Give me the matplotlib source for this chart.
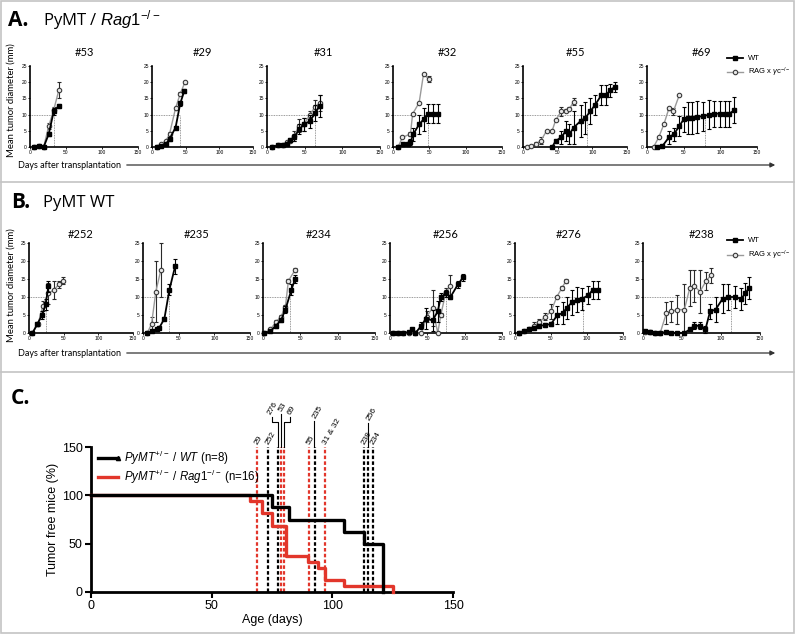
import matplotlib
matplotlib.use('Agg')
import matplotlib.pyplot as plt
from matplotlib.lines import Line2D
from matplotlib.patches import Rectangle, FancyArrowPatch

plt.rcParams['mathtext.fontset'] = 'custom'
plt.rcParams['mathtext.rm'] = 'Liberation Sans'
plt.rcParams['mathtext.it'] = 'Liberation Sans:italic'
plt.rcParams['font.family'] = ['Liberation Sans', 'DejaVu Sans']

W, H = 796, 635

# ---------------- panel A: PyMT / Rag1-/- tumours ----------------
a_titles = ['#53', '#29', '#31', '#32', '#55', '#69']

wt_d_53 = [5, 12, 19, 26, 33, 40]
wt_v_53 = [0, 0.3, 0, 4, 11, 12.7]
wt_e_53 = [0, 0, 0, 0.5, 1, 0.7]
rag_d_53 = [5, 12, 19, 26, 33, 40]
rag_v_53 = [0, 0.3, 0, 6.5, 11.5, 17.5]
rag_e_53 = [0, 0, 0, 1, 1, 2.5]
cut_53 = 33

wt_d_29 = [7, 14, 21, 26, 35, 42, 48]
wt_v_29 = [0, 0.2, 1, 2.5, 6, 13.5, 17.3]
wt_e_29 = [0, 0, 0.3, 0.5, 0.5, 0.8, 0.5]
rag_d_29 = [7, 14, 21, 26, 35, 42, 49]
rag_v_29 = [0, 1, 2, 4, 12, 16.5, 20]
rag_e_29 = [0, 0, 0, 0.5, 0.5, 0.5, 0.5]
cut_29 = 41

wt_d_31 = [7, 14, 21, 26, 31, 36, 43, 49, 57, 64, 70]
wt_v_31 = [0, 0.5, 0.7, 1, 2.2, 3, 5.5, 7, 8, 10.5, 12.7]
wt_e_31 = [0, 0, 0, 0.3, 0.5, 1, 1.5, 2, 2, 2.5, 3.5]
rag_d_31 = [7, 14, 21, 26, 31, 36, 43, 49, 57, 64, 70]
rag_v_31 = [0, 0.5, 0.7, 1.5, 2, 3.5, 6.5, 7, 10, 12.5, 13.5]
rag_e_31 = [0, 0, 0, 0.3, 0.5, 1.5, 2, 2, 1, 2, 2.5]
cut_31 = 64

wt_d_32 = [7, 14, 21, 24, 28, 36, 42, 48, 55, 62]
wt_v_32 = [0, 0.8, 1, 1.5, 4, 7, 8.5, 10.3, 10.3, 10.3]
wt_e_32 = [0, 0.3, 0.5, 1, 2, 3, 3.5, 3, 3, 3]
rag_d_32 = [7, 13, 24, 27, 36, 42, 49]
rag_v_32 = [0, 3, 4, 10.2, 13.7, 22.5, 21]
rag_e_32 = [0, 0, 0.5, 0, 0, 0, 1]
cut_32 = 48

wt_d_55 = [42, 47, 55, 62, 67, 73, 83, 90, 97, 104, 113, 119, 126, 132]
wt_v_55 = [0, 1.8, 3, 5, 4, 6, 8, 9, 11, 13, 16, 16, 17.5, 18.5]
wt_e_55 = [0, 0.5, 2, 3, 3, 5, 5, 5, 4, 3, 3, 3, 2, 1.5]
rag_d_55 = [6, 11, 19, 26, 34, 42, 47, 55, 62, 67, 73]
rag_v_55 = [0, 0.3, 1, 2, 5, 5, 8.2, 11, 11.2, 11.8, 14]
rag_e_55 = [0, 0, 0.5, 1, 0, 0, 0, 1.5, 0.5, 0.5, 1]
cut_55 = 92

wt_d_69 = [14, 21, 30, 37, 44, 50, 56, 62, 68, 76, 85, 92, 99, 106, 112, 119]
wt_v_69 = [0, 0.3, 3, 4, 6.5, 8.5, 9, 9, 9.3, 9.5, 10, 10.3, 10.3, 10.3, 10.3, 11.3]
wt_e_69 = [0, 0, 2, 2, 3, 4, 5, 5, 5, 4.5, 4.5, 4, 4, 4, 4, 4]
rag_d_69 = [9, 16, 23, 30, 36, 44]
rag_v_69 = [0, 3, 7, 12, 11, 16]
rag_e_69 = [0, 0, 0, 0.5, 1, 0]
cut_69 = 79

# ---------------- panel B: PyMT WT tumours ----------------
b_titles = ['#252', '#235', '#234', '#256', '#276', '#238']

wt_d_252 = [5, 12, 19, 24, 28]
wt_v_252 = [0, 2.5, 5, 8, 13]
wt_e_252 = [0, 0.5, 1, 1.5, 1.5]
rag_d_252 = [5, 13, 20, 28, 36, 43, 49]
rag_v_252 = [0, 2.5, 7.5, 11, 12, 13.5, 14.5]
rag_e_252 = [0, 0.5, 1.5, 3, 2.5, 1, 1]
cut_252 = 25

wt_d_235 = [6, 12, 19, 23, 30, 37, 45]
wt_v_235 = [0, 0.5, 1, 1.5, 4, 12, 18.5]
wt_e_235 = [0, 0, 0.3, 0.5, 0.5, 1.5, 2]
rag_d_235 = [6, 12, 18, 25]
rag_v_235 = [0, 2.5, 11.5, 17.5]
rag_e_235 = [0, 2, 8.5, 7.5]
cut_235 = 36

wt_d_234 = [2, 10, 17, 24, 30, 38, 43]
wt_v_234 = [0, 0.5, 2, 3.5, 6.5, 12, 15]
wt_e_234 = [0, 0, 0.5, 0.5, 1, 1.5, 1]
rag_d_234 = [2, 10, 17, 24, 30, 34, 43]
rag_v_234 = [0, 1, 3, 4.5, 7.3, 14.5, 17.5]
rag_e_234 = [0, 0, 0.5, 0.5, 0.5, 0.5, 0.5]
cut_234 = 36

wt_d_256 = [4, 11, 18, 25, 30, 34, 42, 48, 57, 64, 68, 75, 81, 91, 98]
wt_v_256 = [0, 0, 0, 0.3, 1, 0, 2, 4, 3.5, 6, 10, 11, 10, 13.5, 15.5]
wt_e_256 = [0, 0, 0, 0, 0.5, 0, 1, 3, 3, 3, 1, 1, 0.5, 1, 1]
rag_d_256 = [4, 11, 18, 25, 34, 42, 49, 57, 64, 68, 75, 81]
rag_v_256 = [0, 0, 0, 0, 0, 0, 4.5, 7, 0, 5, 11.5, 13]
rag_e_256 = [0, 0, 0, 0, 0, 0, 1.5, 5, 0, 0.5, 1, 3]
cut_256 = 75

wt_d_276 = [6, 12, 20, 27, 34, 42, 50, 59, 66, 72, 79, 86, 93, 102, 108, 115]
wt_v_276 = [0, 0.5, 1, 1.5, 2, 2.2, 2.5, 5, 5.5, 7, 8.5, 9.2, 9.5, 10.5, 12, 12]
wt_e_276 = [0, 0, 0.3, 0.5, 0.5, 0.5, 0.5, 2.5, 3, 3, 3.5, 3.5, 3, 2.5, 2.5, 2.5]
rag_d_276 = [6, 12, 20, 27, 34, 42, 50, 58, 65, 71]
rag_v_276 = [0, 0.5, 1, 2, 3, 4.5, 6, 10, 12.5, 14.5]
rag_e_276 = [0, 0, 0.3, 1, 1, 1, 2, 0, 0.5, 0.5]
cut_276 = 95

wt_d_238 = [2, 9, 16, 22, 30, 36, 44, 53, 60, 66, 73, 80, 86, 93, 102, 109, 118, 126, 131, 136]
wt_v_238 = [0.5, 0.3, 0, 0, 0.3, 0, 0, 0, 1, 2, 2, 1, 6, 6.5, 9.5, 10, 10, 9.5, 11, 12.5]
wt_e_238 = [0.3, 0, 0, 0, 0, 0, 0, 0, 0.5, 1, 1, 1, 2, 3.5, 4, 3.5, 3, 3, 3, 3]
rag_d_238 = [2, 9, 16, 22, 30, 36, 44, 53, 60, 66, 73, 81, 87]
rag_v_238 = [0.3, 0.3, 0, 0, 5.5, 6, 6.5, 6.5, 12.5, 13, 11.5, 14.5, 16]
rag_e_238 = [0.5, 0.5, 0, 0, 3, 3, 4, 7, 5, 4.5, 6, 2.5, 2]
cut_238 = 113

# ---------------- panel C: tumour free survival ----------------
wt_surv_days = [0, 75, 82, 105, 113, 121]
wt_surv = [100, 87.5, 75, 62.5, 50, 0]
rag_surv_days = [0, 66, 71, 75, 81, 90, 94, 97, 105, 125]
rag_surv = [100, 93.75, 81.25, 68.75, 37.5, 31.25, 25, 12.5, 6.25, 0]

event_labels = ['29', '252', '276', '53', '69', '55', '235', '31 & 32', '238', '256', '234']
event_days = [68.7, 73.4, 77.6, 78.9, 79.9, 90.5, 92.8, 97, 113.1, 114.9, 117]
event_group = ['rag', 'wt', 'wt', 'rag', 'rag', 'rag', 'wt', 'rag', 'wt', 'wt', 'wt']


def rect(x0, y0, x1, y1):
    return [x0 / W, 1 - y1 / H, (x1 - x0) / W, (y1 - y0) / H]


def fx(x):
    return x / W


def fy(y):
    return 1 - y / H


fig = plt.figure(figsize=(7.96, 6.35), dpi=100)

# frame and separators
fig.add_artist(Rectangle((fx(1), fy(633)), fx(793), 1 - fy(632), transform=fig.transFigure,
                         fill=False, ec='#c4c4c4', lw=1.2))
for ysep in [182, 372]:
    fig.add_artist(Line2D([fx(1), fx(794)], [fy(ysep), fy(ysep)], transform=fig.transFigure,
                          color='#c4c4c4', lw=1.2))


def tumour_plot(ax, wt_d, wt_v, wt_e, rag_d, rag_v, rag_e, cut):
    ax.plot([0, cut], [10, 10], ls=(0, (1, 1)), color='#7a7a7a', lw=0.6)
    ax.plot([cut, cut], [0, 10], ls=(0, (1, 1)), color='#7a7a7a', lw=0.6)
    ax.errorbar(rag_d, rag_v, yerr=rag_e, color='#9a9a9a', lw=1.0, marker='o', ms=3.2,
                mfc='#e6e6e6', mec='#3a3a3a', mew=0.8, ecolor='#2a2a2a', elinewidth=0.8,
                capsize=1.3, capthick=0.8, clip_on=False, zorder=3)
    ax.errorbar(wt_d, wt_v, yerr=wt_e, color='black', lw=1.3, marker='s', ms=2.6,
                mfc='black', mec='black', ecolor='black', elinewidth=0.8,
                capsize=1.3, capthick=0.8, clip_on=False, zorder=4)
    ax.set_xlim(0, 150)
    ax.set_ylim(0, 25)
    ax.set_xticks([0, 50, 100, 150])
    ax.set_yticks([0, 5, 10, 15, 20, 25])
    for s in ['top', 'right']:
        ax.spines[s].set_visible(False)
    for s in ['left', 'bottom']:
        ax.spines[s].set_linewidth(1.2)
    ax.tick_params(labelsize=3.5, length=1.5, width=0.6, pad=0.8)
    ax.set_facecolor('none')


a_boxes = [(30, 138), (152, 253), (267, 380), (393, 502), (523, 627), (647, 757)]
b_boxes = [(29, 133), (143, 250), (263, 375), (390, 502), (515, 623), (643, 760)]

a_data = [
    (wt_d_53, wt_v_53, wt_e_53, rag_d_53, rag_v_53, rag_e_53, cut_53),
    (wt_d_29, wt_v_29, wt_e_29, rag_d_29, rag_v_29, rag_e_29, cut_29),
    (wt_d_31, wt_v_31, wt_e_31, rag_d_31, rag_v_31, rag_e_31, cut_31),
    (wt_d_32, wt_v_32, wt_e_32, rag_d_32, rag_v_32, rag_e_32, cut_32),
    (wt_d_55, wt_v_55, wt_e_55, rag_d_55, rag_v_55, rag_e_55, cut_55),
    (wt_d_69, wt_v_69, wt_e_69, rag_d_69, rag_v_69, rag_e_69, cut_69),
]
b_data = [
    (wt_d_252, wt_v_252, wt_e_252, rag_d_252, rag_v_252, rag_e_252, cut_252),
    (wt_d_235, wt_v_235, wt_e_235, rag_d_235, rag_v_235, rag_e_235, cut_235),
    (wt_d_234, wt_v_234, wt_e_234, rag_d_234, rag_v_234, rag_e_234, cut_234),
    (wt_d_256, wt_v_256, wt_e_256, rag_d_256, rag_v_256, rag_e_256, cut_256),
    (wt_d_276, wt_v_276, wt_e_276, rag_d_276, rag_v_276, rag_e_276, cut_276),
    (wt_d_238, wt_v_238, wt_e_238, rag_d_238, rag_v_238, rag_e_238, cut_238),
]

for boxes, data, titles, ytop, ybot, ytitle in [(a_boxes, a_data, a_titles, 66, 147, 52),
                                                 (b_boxes, b_data, b_titles, 243, 333, 235)]:
    for (x0, x1), d, t in zip(boxes, data, titles):
        ax = fig.add_axes(rect(x0, ytop, x1, ybot))
        tumour_plot(ax, *d)
        fig.text(fx((x0 + x1) / 2), fy(ytitle), t, ha='center', va='center', fontsize=8,
                 family='Lato')

# panel headers
fig.text(fx(8), fy(20), 'A.', fontsize=15, weight='bold', va='center', family='Open Sans')
fig.text(fx(43), fy(20), r'PyMT / $\mathit{Rag1}^{-/-}$', fontsize=12, va='center', family='Open Sans')
fig.text(fx(11), fy(203), 'B.', fontsize=15, weight='bold', va='center', family='Open Sans')
fig.text(fx(43), fy(203), 'PyMT WT', fontsize=12, va='center', family='Open Sans')
fig.text(fx(11), fy(398), 'C.', fontsize=15, weight='bold', va='center', family='Open Sans')

# y labels and x arrows of A and B
for ymid, yarrow in [(100, 165), (285, 353)]:
    fig.text(fx(11), fy(ymid), 'Mean tumor diameter (mm)', rotation=90, ha='center', va='center',
             fontsize=6.8, family='Lato')
    fig.text(fx(18), fy(yarrow), 'Days after transplantation', ha='left', va='center',
             fontsize=6.5, family='Lato')
    fig.add_artist(FancyArrowPatch((fx(124), fy(yarrow)), (fx(778), fy(yarrow)),
                                   transform=fig.transFigure, arrowstyle='-|>', mutation_scale=7,
                                   color='#333333', lw=0.9))

# legends of A and B
for ywt, yrag in [(58, 72), (240, 255)]:
    fig.add_artist(Line2D([fx(727), fx(743)], [fy(ywt), fy(ywt)], transform=fig.transFigure,
                          color='black', lw=1.3))
    fig.add_artist(Line2D([fx(735)], [fy(ywt)], transform=fig.transFigure,
                          color='black', marker='s', ms=3))
    fig.add_artist(Line2D([fx(727), fx(743)], [fy(yrag), fy(yrag)], transform=fig.transFigure,
                          color='#9a9a9a', lw=1.0))
    fig.add_artist(Line2D([fx(735)], [fy(yrag)], transform=fig.transFigure, marker='o', ms=3.2,
                          mfc='#e6e6e6', mec='#3a3a3a', mew=0.8, color='none'))
    fig.text(fx(748), fy(ywt), 'WT', fontsize=5.5, va='center')
    fig.text(fx(748), fy(yrag), r'RAG x $\gamma$c$^{-/-}$', fontsize=5.5, va='center')

# ---------------- panel C ----------------
axc = fig.add_axes(rect(91, 447, 453, 592))
red = '#e2362b'
event_colors = {'wt': 'black', 'rag': red}
for day, grp in zip(event_days, event_group):
    axc.plot([day, day], [0, 150], color=event_colors[grp], ls=(0, (1.6, 1.0)), lw=1.6,
             clip_on=False, zorder=2)

axc.step(wt_surv_days, wt_surv, where='post', color='black', lw=2.4, zorder=4, clip_on=False)
axc.step(rag_surv_days, rag_surv, where='post', color=red, lw=2.4, zorder=3, clip_on=False)

# labels over the event lines; some are lifted and joined with leader lines
leaders = {
    '276': ((74.0, 184), [(74.9, 181), (74.9, 176), (77.6, 176), (77.6, 150)]),
    '53': ((78.6, 187), [(78.9, 184), (78.9, 150)]),
    '69': ((82.0, 184), [(82.5, 181), (82.5, 176), (79.9, 176), (79.9, 150)]),
    '235': ((92.6, 180), [(92.6, 177), (92.6, 150)]),
    '256': ((114.9, 178), [(114.9, 175), (114.9, 150)]),
}
for lab, day in zip(event_labels, event_days):
    if lab in leaders:
        (tx, ty), path = leaders[lab]
        axc.plot([p[0] for p in path], [p[1] for p in path], color='black', lw=0.8, clip_on=False)
    else:
        tx, ty = day - 0.3, 153
    axc.text(tx, ty, lab, rotation=60, rotation_mode='anchor', ha='left', va='center',
             fontsize=6, clip_on=False)

axc.set_xlim(0, 150)
axc.set_ylim(0, 150)
axc.set_xticks([0, 50, 100, 150])
axc.set_yticks([0, 50, 100, 150])
for s in ['top', 'right']:
    axc.spines[s].set_visible(False)
for s in ['left', 'bottom']:
    axc.spines[s].set_linewidth(2.0)
axc.tick_params(labelsize=9, length=4, width=1.5, pad=2)
axc.set_xlabel('Age (days)', fontsize=9, labelpad=1)
axc.set_ylabel('Tumor free mice (%)', fontsize=9)
axc.yaxis.set_label_coords(-0.088, 0.5)
axc.set_facecolor('none')

# legend of C
fig.add_artist(Line2D([fx(98), fx(118)], [fy(458), fy(458)], transform=fig.transFigure,
                      color='black', lw=2.4, marker='^', ms=3, markevery=[1]))
fig.add_artist(Line2D([fx(98), fx(118)], [fy(477), fy(477)], transform=fig.transFigure,
                      color=red, lw=2.4))
fig.text(fx(124), fy(458), r'$\mathit{PyMT}^{+/-}$ / $\mathit{WT}$ (n=8)', fontsize=8.3, va='center')
fig.text(fx(124), fy(477), r'$\mathit{PyMT}^{+/-}$ / $\mathit{Rag1}^{-/-}$ (n=16)', fontsize=8.3,
         va='center')

fig.savefig('out.png', dpi=100)
